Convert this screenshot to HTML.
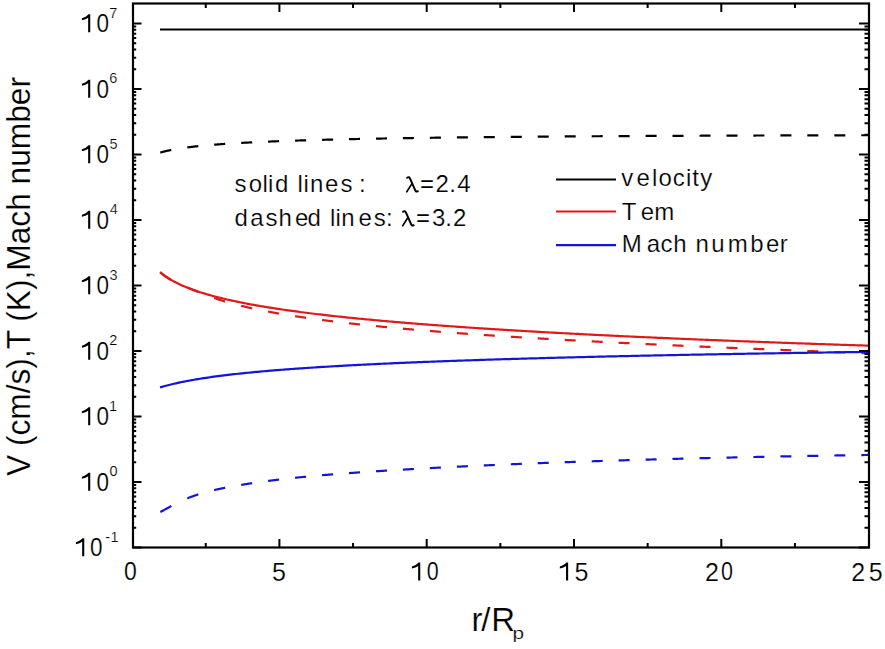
<!DOCTYPE html>
<html><head><meta charset="utf-8"><style>
html,body{margin:0;padding:0;background:#fff;}
svg{display:block;}
</style></head><body>
<svg width="885" height="649" viewBox="0 0 885 649">
<style>
text { font-family: "Liberation Sans", sans-serif; fill:#000; stroke:#fff; stroke-width:0.2px; }
.tl { font-size:25px; letter-spacing:2px; }
.sup { font-size:14px; letter-spacing:0; }
.at { font-size:33px; }
.an { font-size:24px; letter-spacing:1px; }
</style>
<rect width="885" height="649" fill="#fff"/>
<g fill="none" stroke-linejoin="round" stroke-width="2.2">
<line x1="160" y1="29.5" x2="868" y2="29.5" stroke="#000"/>
<g stroke="#000"><polyline points="160.3,152.59 160.8,152.44 161.3,152.30 161.8,152.16 162.3,152.02 162.8,151.89 163.3,151.76 163.8,151.63 164.3,151.50 164.8,151.38 165.3,151.26 165.8,151.14 166.3,151.02 166.8,150.91 167.3,150.79 167.8,150.68 168.3,150.57 168.8,150.46 169.3,150.36 169.8,150.25 170.3,150.15 170.8,150.05 171.3,149.95"/>
<polyline points="187.3,147.42 187.8,147.35 188.3,147.29 188.8,147.22 189.3,147.16 189.8,147.10 190.3,147.04 190.8,146.98 191.3,146.92 191.8,146.86 192.3,146.80 192.8,146.74 193.3,146.69 193.8,146.63 194.3,146.57 194.8,146.52 195.3,146.46 195.8,146.41 196.3,146.35 196.8,146.30 197.3,146.25 197.8,146.19 198.3,146.14"/>
<polyline points="214.2,144.69 214.7,144.65 215.2,144.61 215.7,144.58 216.2,144.54 216.7,144.50 217.2,144.46 217.7,144.42 218.2,144.39 218.7,144.35 219.2,144.31 219.7,144.27 220.2,144.24 220.7,144.20 221.2,144.17 221.7,144.13 222.2,144.09 222.7,144.06 223.2,144.02 223.7,143.99 224.2,143.95 224.7,143.92 225.2,143.89"/>
<polyline points="241.2,142.91 241.7,142.88 242.2,142.85 242.7,142.82 243.2,142.80 243.7,142.77 244.2,142.74 244.7,142.72 245.2,142.69 245.7,142.66 246.2,142.64 246.7,142.61 247.2,142.59 247.7,142.56 248.2,142.53 248.7,142.51 249.2,142.48 249.7,142.46 250.2,142.43 250.7,142.41 251.2,142.38 251.7,142.36 252.2,142.33"/>
<polyline points="268.1,141.61 268.6,141.59 269.1,141.57 269.6,141.55 270.1,141.53 270.6,141.51 271.1,141.49 271.6,141.47 272.1,141.45 272.6,141.43 273.1,141.41 273.6,141.39 274.1,141.37 274.6,141.35 275.1,141.33 275.6,141.31 276.1,141.29 276.6,141.27 277.1,141.25 277.6,141.23 278.1,141.22 278.6,141.20 279.1,141.18"/>
<polyline points="295.1,140.62 295.6,140.60 296.1,140.59 296.6,140.57 297.1,140.55 297.6,140.54 298.1,140.52 298.6,140.51 299.1,140.49 299.6,140.48 300.1,140.46 300.6,140.44 301.1,140.43 301.6,140.41 302.1,140.40 302.6,140.38 303.1,140.37 303.6,140.35 304.1,140.34 304.6,140.32 305.1,140.31 305.6,140.29 306.1,140.28"/>
<polyline points="322.1,139.83 322.6,139.81 323.1,139.80 323.6,139.79 324.1,139.78 324.6,139.76 325.1,139.75 325.6,139.74 326.1,139.72 326.6,139.71 327.1,139.70 327.6,139.69 328.1,139.67 328.6,139.66 329.1,139.65 329.6,139.64 330.1,139.62 330.6,139.61 331.1,139.60 331.6,139.59 332.1,139.57 332.6,139.56 333.1,139.55"/>
<polyline points="349.0,139.18 349.5,139.17 350.0,139.16 350.5,139.15 351.0,139.14 351.5,139.13 352.0,139.12 352.5,139.10 353.0,139.09 353.5,139.08 354.0,139.07 354.5,139.06 355.0,139.05 355.5,139.04 356.0,139.03 356.5,139.02 357.0,139.01 357.5,139.00 358.0,138.99 358.5,138.98 359.0,138.97 359.5,138.96 360.0,138.95"/>
<polyline points="376.0,138.64 376.5,138.63 377.0,138.62 377.5,138.61 378.0,138.60 378.5,138.59 379.0,138.58 379.5,138.58 380.0,138.57 380.5,138.56 381.0,138.55 381.5,138.54 382.0,138.53 382.5,138.52 383.0,138.51 383.5,138.50 384.0,138.50 384.5,138.49 385.0,138.48 385.5,138.47 386.0,138.46 386.5,138.45 387.0,138.44"/>
<polyline points="402.9,138.18 403.4,138.17 403.9,138.17 404.4,138.16 404.9,138.15 405.4,138.14 405.9,138.14 406.4,138.13 406.9,138.12 407.4,138.11 407.9,138.10 408.4,138.10 408.9,138.09 409.4,138.08 409.9,138.07 410.4,138.07 410.9,138.06 411.4,138.05 411.9,138.04 412.4,138.04 412.9,138.03 413.4,138.02 413.9,138.01"/>
<polyline points="429.9,137.79 430.4,137.78 430.9,137.78 431.4,137.77 431.9,137.76 432.4,137.76 432.9,137.75 433.4,137.74 433.9,137.74 434.4,137.73 434.9,137.72 435.4,137.72 435.9,137.71 436.4,137.70 436.9,137.70 437.4,137.69 437.9,137.68 438.4,137.68 438.9,137.67 439.4,137.66 439.9,137.66 440.4,137.65 440.9,137.64"/>
<polyline points="456.9,137.45 457.4,137.44 457.9,137.44 458.4,137.43 458.9,137.43 459.4,137.42 459.9,137.41 460.4,137.41 460.9,137.40 461.4,137.40 461.9,137.39 462.4,137.39 462.9,137.38 463.4,137.37 463.9,137.37 464.4,137.36 464.9,137.36 465.4,137.35 465.9,137.35 466.4,137.34 466.9,137.34 467.4,137.33 467.9,137.32"/>
<polyline points="483.8,137.15 484.3,137.15 484.8,137.14 485.3,137.14 485.8,137.13 486.3,137.13 486.8,137.12 487.3,137.12 487.8,137.11 488.3,137.11 488.8,137.10 489.3,137.10 489.8,137.09 490.3,137.09 490.8,137.08 491.3,137.08 491.8,137.07 492.3,137.07 492.8,137.06 493.3,137.06 493.8,137.05 494.3,137.05 494.8,137.04"/>
<polyline points="510.8,136.89 511.3,136.89 511.8,136.88 512.3,136.88 512.8,136.88 513.3,136.87 513.8,136.87 514.3,136.86 514.8,136.86 515.3,136.85 515.8,136.85 516.3,136.84 516.8,136.84 517.3,136.84 517.8,136.83 518.3,136.83 518.8,136.82 519.3,136.82 519.8,136.81 520.3,136.81 520.8,136.80 521.3,136.80 521.8,136.80"/>
<polyline points="537.7,136.66 538.2,136.66 538.7,136.66 539.2,136.65 539.7,136.65 540.2,136.64 540.7,136.64 541.2,136.64 541.7,136.63 542.2,136.63 542.7,136.62 543.2,136.62 543.7,136.62 544.2,136.61 544.7,136.61 545.2,136.60 545.7,136.60 546.2,136.60 546.7,136.59 547.2,136.59 547.7,136.59 548.2,136.58 548.7,136.58"/>
<polyline points="564.7,136.46 565.2,136.46 565.7,136.45 566.2,136.45 566.7,136.45 567.2,136.44 567.7,136.44 568.2,136.44 568.7,136.43 569.2,136.43 569.7,136.43 570.2,136.42 570.7,136.42 571.2,136.41 571.7,136.41 572.2,136.41 572.7,136.40 573.2,136.40 573.7,136.40 574.2,136.39 574.7,136.39 575.2,136.39 575.7,136.38"/>
<polyline points="591.7,136.28 592.2,136.28 592.7,136.27 593.2,136.27 593.7,136.27 594.2,136.26 594.7,136.26 595.2,136.26 595.7,136.25 596.2,136.25 596.7,136.25 597.2,136.25 597.7,136.24 598.2,136.24 598.7,136.24 599.2,136.23 599.7,136.23 600.2,136.23 600.7,136.22 601.2,136.22 601.7,136.22 602.2,136.21 602.7,136.21"/>
<polyline points="618.6,136.12 619.1,136.12 619.6,136.11 620.1,136.11 620.6,136.11 621.1,136.10 621.6,136.10 622.1,136.10 622.6,136.10 623.1,136.09 623.6,136.09 624.1,136.09 624.6,136.08 625.1,136.08 625.6,136.08 626.1,136.08 626.6,136.07 627.1,136.07 627.6,136.07 628.1,136.07 628.6,136.06 629.1,136.06 629.6,136.06"/>
<polyline points="645.6,135.97 646.1,135.97 646.6,135.97 647.1,135.97 647.6,135.96 648.1,135.96 648.6,135.96 649.1,135.96 649.6,135.95 650.1,135.95 650.6,135.95 651.1,135.95 651.6,135.94 652.1,135.94 652.6,135.94 653.1,135.94 653.6,135.93 654.1,135.93 654.6,135.93 655.1,135.93 655.6,135.92 656.1,135.92 656.6,135.92"/>
<polyline points="672.5,135.84 673.0,135.84 673.5,135.84 674.0,135.84 674.5,135.84 675.0,135.83 675.5,135.83 676.0,135.83 676.5,135.83 677.0,135.82 677.5,135.82 678.0,135.82 678.5,135.82 679.0,135.82 679.5,135.81 680.0,135.81 680.5,135.81 681.0,135.81 681.5,135.80 682.0,135.80 682.5,135.80 683.0,135.80 683.5,135.80"/>
<polyline points="699.5,135.73 700.0,135.73 700.5,135.73 701.0,135.72 701.5,135.72 702.0,135.72 702.5,135.72 703.0,135.72 703.5,135.71 704.0,135.71 704.5,135.71 705.0,135.71 705.5,135.71 706.0,135.70 706.5,135.70 707.0,135.70 707.5,135.70 708.0,135.70 708.5,135.69 709.0,135.69 709.5,135.69 710.0,135.69 710.5,135.69"/>
<polyline points="726.5,135.63 727.0,135.62 727.5,135.62 728.0,135.62 728.5,135.62 729.0,135.62 729.5,135.61 730.0,135.61 730.5,135.61 731.0,135.61 731.5,135.61 732.0,135.61 732.5,135.60 733.0,135.60 733.5,135.60 734.0,135.60 734.5,135.60 735.0,135.59 735.5,135.59 736.0,135.59 736.5,135.59 737.0,135.59 737.5,135.59"/>
<polyline points="753.4,135.53 753.9,135.53 754.4,135.53 754.9,135.53 755.4,135.53 755.9,135.52 756.4,135.52 756.9,135.52 757.4,135.52 757.9,135.52 758.4,135.52 758.9,135.51 759.4,135.51 759.9,135.51 760.4,135.51 760.9,135.51 761.4,135.51 761.9,135.50 762.4,135.50 762.9,135.50 763.4,135.50 763.9,135.50 764.4,135.50"/>
<polyline points="780.4,135.45 780.9,135.45 781.4,135.45 781.9,135.44 782.4,135.44 782.9,135.44 783.4,135.44 783.9,135.44 784.4,135.44 784.9,135.44 785.4,135.43 785.9,135.43 786.4,135.43 786.9,135.43 787.4,135.43 787.9,135.43 788.4,135.43 788.9,135.42 789.4,135.42 789.9,135.42 790.4,135.42 790.9,135.42 791.4,135.42"/>
<polyline points="807.3,135.37 807.8,135.37 808.3,135.37 808.8,135.37 809.3,135.37 809.8,135.37 810.3,135.37 810.8,135.36 811.3,135.36 811.8,135.36 812.3,135.36 812.8,135.36 813.3,135.36 813.8,135.36 814.3,135.36 814.8,135.35 815.3,135.35 815.8,135.35 816.3,135.35 816.8,135.35 817.3,135.35 817.8,135.35 818.3,135.35"/>
<polyline points="834.3,135.31 834.8,135.30 835.3,135.30 835.8,135.30 836.3,135.30 836.8,135.30 837.3,135.30 837.8,135.30 838.3,135.30 838.8,135.30 839.3,135.29 839.8,135.29 840.3,135.29 840.8,135.29 841.3,135.29 841.8,135.29 842.3,135.29 842.8,135.29 843.3,135.29 843.8,135.28 844.3,135.28 844.8,135.28 845.3,135.28"/>
<polyline points="861.3,135.25 861.8,135.24 862.3,135.24 862.8,135.24 863.3,135.24 863.8,135.24 864.3,135.24 864.8,135.24 865.3,135.24 865.8,135.24 866.3,135.24 866.8,135.23 867.3,135.23 867.8,135.23 868.0,135.23"/></g>
<g stroke="#e01818"><polyline points="160.0,272.05 162.0,273.70 164.0,275.23 166.0,276.65 168.0,277.97 170.0,279.21 172.0,280.38 174.0,281.48 176.0,282.53 178.0,283.53 180.0,284.48 182.0,285.39 184.0,286.26 186.0,287.09 188.0,287.90 190.0,288.67 192.0,289.42 194.0,290.14 196.0,290.84 198.0,291.51 200.0,292.17 202.0,292.80 204.0,293.42 206.0,294.02 208.0,294.60 210.0,295.17 212.0,295.72 214.0,296.26 216.0,296.79 218.0,297.30 220.0,297.80 222.0,298.29 224.0,298.77 226.0,299.24 228.0,299.70 230.0,300.15 232.0,300.59 234.0,301.02 236.0,301.45 238.0,301.86 240.0,302.27 242.0,302.67 244.0,303.07 246.0,303.46 248.0,303.84 250.0,304.21 252.0,304.58 254.0,304.94 256.0,305.30 258.0,305.65 260.0,305.99 262.0,306.33 264.0,306.67 266.0,307.00 268.0,307.32 270.0,307.64 272.0,307.96 274.0,308.27 276.0,308.58 278.0,308.88 280.0,309.18 282.0,309.47 284.0,309.77 286.0,310.05 288.0,310.34 290.0,310.62 292.0,310.90 294.0,311.17 296.0,311.44 298.0,311.71 300.0,311.97 302.0,312.23 304.0,312.49 306.0,312.75 308.0,313.00 310.0,313.25 312.0,313.50 314.0,313.74 316.0,313.98 318.0,314.22 320.0,314.46 322.0,314.70 324.0,314.93 326.0,315.16 328.0,315.39 330.0,315.61 332.0,315.83 334.0,316.06 336.0,316.27 338.0,316.49 340.0,316.71 342.0,316.92 344.0,317.13 346.0,317.34 348.0,317.55 350.0,317.75 352.0,317.96 354.0,318.16 356.0,318.36 358.0,318.56 360.0,318.75 362.0,318.95 364.0,319.14 366.0,319.33 368.0,319.52 370.0,319.71 372.0,319.90 374.0,320.09 376.0,320.27 378.0,320.45 380.0,320.63 382.0,320.81 384.0,320.99 386.0,321.17 388.0,321.35 390.0,321.52 392.0,321.70 394.0,321.87 396.0,322.04 398.0,322.21 400.0,322.38 402.0,322.54 404.0,322.71 406.0,322.87 408.0,323.04 410.0,323.20 412.0,323.36 414.0,323.52 416.0,323.68 418.0,323.84 420.0,324.00 422.0,324.15 424.0,324.31 426.0,324.46 428.0,324.62 430.0,324.77 432.0,324.92 434.0,325.07 436.0,325.22 438.0,325.37 440.0,325.51 442.0,325.66 444.0,325.81 446.0,325.95 448.0,326.10 450.0,326.24 452.0,326.38 454.0,326.52 456.0,326.66 458.0,326.80 460.0,326.94 462.0,327.08 464.0,327.22 466.0,327.35 468.0,327.49 470.0,327.62 472.0,327.76 474.0,327.89 476.0,328.02 478.0,328.15 480.0,328.29 482.0,328.42 484.0,328.55 486.0,328.68 488.0,328.80 490.0,328.93 492.0,329.06 494.0,329.18 496.0,329.31 498.0,329.44 500.0,329.56 502.0,329.68 504.0,329.81 506.0,329.93 508.0,330.05 510.0,330.17 512.0,330.29 514.0,330.41 516.0,330.53 518.0,330.65 520.0,330.77 522.0,330.89 524.0,331.00 526.0,331.12 528.0,331.24 530.0,331.35 532.0,331.47 534.0,331.58 536.0,331.69 538.0,331.81 540.0,331.92 542.0,332.03 544.0,332.14 546.0,332.26 548.0,332.37 550.0,332.48 552.0,332.59 554.0,332.69 556.0,332.80 558.0,332.91 560.0,333.02 562.0,333.13 564.0,333.23 566.0,333.34 568.0,333.45 570.0,333.55 572.0,333.66 574.0,333.76 576.0,333.86 578.0,333.97 580.0,334.07 582.0,334.17 584.0,334.28 586.0,334.38 588.0,334.48 590.0,334.58 592.0,334.68 594.0,334.78 596.0,334.88 598.0,334.98 600.0,335.08 602.0,335.18 604.0,335.27 606.0,335.37 608.0,335.47 610.0,335.57 612.0,335.66 614.0,335.76 616.0,335.85 618.0,335.95 620.0,336.05 622.0,336.14 624.0,336.23 626.0,336.33 628.0,336.42 630.0,336.51 632.0,336.61 634.0,336.70 636.0,336.79 638.0,336.88 640.0,336.98 642.0,337.07 644.0,337.16 646.0,337.25 648.0,337.34 650.0,337.43 652.0,337.52 654.0,337.61 656.0,337.70 658.0,337.78 660.0,337.87 662.0,337.96 664.0,338.05 666.0,338.13 668.0,338.22 670.0,338.31 672.0,338.39 674.0,338.48 676.0,338.57 678.0,338.65 680.0,338.74 682.0,338.82 684.0,338.91 686.0,338.99 688.0,339.07 690.0,339.16 692.0,339.24 694.0,339.32 696.0,339.41 698.0,339.49 700.0,339.57 702.0,339.65 704.0,339.74 706.0,339.82 708.0,339.90 710.0,339.98 712.0,340.06 714.0,340.14 716.0,340.22 718.0,340.30 720.0,340.38 722.0,340.46 724.0,340.54 726.0,340.62 728.0,340.69 730.0,340.77 732.0,340.85 734.0,340.93 736.0,341.01 738.0,341.08 740.0,341.16 742.0,341.24 744.0,341.31 746.0,341.39 748.0,341.47 750.0,341.54 752.0,341.62 754.0,341.69 756.0,341.77 758.0,341.84 760.0,341.92 762.0,341.99 764.0,342.07 766.0,342.14 768.0,342.22 770.0,342.29 772.0,342.36 774.0,342.44 776.0,342.51 778.0,342.58 780.0,342.65 782.0,342.73 784.0,342.80 786.0,342.87 788.0,342.94 790.0,343.01 792.0,343.08 794.0,343.16 796.0,343.23 798.0,343.30 800.0,343.37 802.0,343.44 804.0,343.51 806.0,343.58 808.0,343.65 810.0,343.72 812.0,343.79 814.0,343.86 816.0,343.92 818.0,343.99 820.0,344.06 822.0,344.13 824.0,344.20 826.0,344.27 828.0,344.33 830.0,344.40 832.0,344.47 834.0,344.54 836.0,344.60 838.0,344.67 840.0,344.74 842.0,344.80 844.0,344.87 846.0,344.94 848.0,345.00 850.0,345.07 852.0,345.13 854.0,345.20 856.0,345.26 858.0,345.33 860.0,345.39 862.0,345.46 864.0,345.52 866.0,345.59 868.0,345.65"/></g>
<g stroke="#e01818"><polyline points="160.3,272.28 160.8,272.76 161.3,273.21 161.8,273.65 162.3,274.07 162.8,274.48 163.3,274.87 163.8,275.25 164.3,275.63 164.8,275.99 165.3,276.34 165.8,276.68 166.3,277.01 166.8,277.33 167.3,277.65 167.8,277.96 168.3,278.27 168.8,278.56 169.3,278.86 169.8,279.14 170.3,279.42 170.8,279.70 171.3,279.97"/>
<polyline points="187.3,287.41 187.8,287.62 188.3,287.83 188.8,288.04 189.3,288.25 189.8,288.46 190.3,288.67 190.8,288.88 191.3,289.09 191.8,289.30 192.3,289.50 192.8,289.71 193.3,289.91 193.8,290.12 194.3,290.32 194.8,290.53 195.3,290.73 195.8,290.93 196.3,291.14 196.8,291.34 197.3,291.54 197.8,291.74 198.3,291.94"/>
<polyline points="214.2,297.98 214.7,298.16 215.2,298.33 215.7,298.50 216.2,298.67 216.7,298.84 217.2,299.01 217.7,299.17 218.2,299.34 218.7,299.50 219.2,299.67 219.7,299.83 220.2,299.99 220.7,300.15 221.2,300.31 221.7,300.46 222.2,300.62 222.7,300.77 223.2,300.93 223.7,301.08 224.2,301.23 224.7,301.38 225.2,301.53"/>
<polyline points="241.2,305.83 241.7,305.95 242.2,306.07 242.7,306.19 243.2,306.31 243.7,306.43 244.2,306.55 244.7,306.67 245.2,306.79 245.7,306.90 246.2,307.02 246.7,307.13 247.2,307.25 247.7,307.36 248.2,307.48 248.7,307.59 249.2,307.70 249.7,307.81 250.2,307.92 250.7,308.04 251.2,308.15 251.7,308.26 252.2,308.36"/>
<polyline points="268.1,311.59 268.6,311.68 269.1,311.78 269.6,311.87 270.1,311.96 270.6,312.06 271.1,312.15 271.6,312.24 272.1,312.33 272.6,312.42 273.1,312.51 273.6,312.60 274.1,312.69 274.6,312.78 275.1,312.87 275.6,312.96 276.1,313.05 276.6,313.13 277.1,313.22 277.6,313.31 278.1,313.40 278.6,313.48 279.1,313.57"/>
<polyline points="295.1,316.16 295.6,316.24 296.1,316.32 296.6,316.39 297.1,316.47 297.6,316.55 298.1,316.62 298.6,316.70 299.1,316.77 299.6,316.85 300.1,316.92 300.6,317.00 301.1,317.07 301.6,317.14 302.1,317.22 302.6,317.29 303.1,317.36 303.6,317.44 304.1,317.51 304.6,317.58 305.1,317.65 305.6,317.73 306.1,317.80"/>
<polyline points="322.1,319.98 322.6,320.05 323.1,320.11 323.6,320.18 324.1,320.24 324.6,320.30 325.1,320.37 325.6,320.43 326.1,320.50 326.6,320.56 327.1,320.62 327.6,320.69 328.1,320.75 328.6,320.81 329.1,320.88 329.6,320.94 330.1,321.00 330.6,321.06 331.1,321.13 331.6,321.19 332.1,321.25 332.6,321.31 333.1,321.37"/>
<polyline points="349.0,323.26 349.5,323.31 350.0,323.37 350.5,323.43 351.0,323.48 351.5,323.54 352.0,323.59 352.5,323.65 353.0,323.71 353.5,323.76 354.0,323.82 354.5,323.87 355.0,323.93 355.5,323.98 356.0,324.04 356.5,324.09 357.0,324.15 357.5,324.20 358.0,324.26 358.5,324.31 359.0,324.36 359.5,324.42 360.0,324.47"/>
<polyline points="376.0,326.13 376.5,326.18 377.0,326.23 377.5,326.28 378.0,326.33 378.5,326.38 379.0,326.43 379.5,326.47 380.0,326.52 380.5,326.57 381.0,326.62 381.5,326.67 382.0,326.72 382.5,326.77 383.0,326.82 383.5,326.87 384.0,326.91 384.5,326.96 385.0,327.01 385.5,327.06 386.0,327.11 386.5,327.15 387.0,327.20"/>
<polyline points="402.9,328.68 403.4,328.72 403.9,328.77 404.4,328.81 404.9,328.86 405.4,328.90 405.9,328.94 406.4,328.99 406.9,329.03 407.4,329.08 407.9,329.12 408.4,329.16 408.9,329.21 409.4,329.25 409.9,329.30 410.4,329.34 410.9,329.38 411.4,329.43 411.9,329.47 412.4,329.51 412.9,329.56 413.4,329.60 413.9,329.64"/>
<polyline points="429.9,330.97 430.4,331.01 430.9,331.05 431.4,331.09 431.9,331.13 432.4,331.17 432.9,331.21 433.4,331.25 433.9,331.29 434.4,331.33 434.9,331.37 435.4,331.41 435.9,331.45 436.4,331.49 436.9,331.53 437.4,331.57 437.9,331.61 438.4,331.65 438.9,331.69 439.4,331.73 439.9,331.77 440.4,331.81 440.9,331.85"/>
<polyline points="456.9,333.06 457.4,333.09 457.9,333.13 458.4,333.17 458.9,333.20 459.4,333.24 459.9,333.28 460.4,333.31 460.9,333.35 461.4,333.39 461.9,333.42 462.4,333.46 462.9,333.50 463.4,333.53 463.9,333.57 464.4,333.60 464.9,333.64 465.4,333.68 465.9,333.71 466.4,333.75 466.9,333.78 467.4,333.82 467.9,333.86"/>
<polyline points="483.8,334.97 484.3,335.00 484.8,335.03 485.3,335.07 485.8,335.10 486.3,335.14 486.8,335.17 487.3,335.20 487.8,335.24 488.3,335.27 488.8,335.30 489.3,335.34 489.8,335.37 490.3,335.40 490.8,335.44 491.3,335.47 491.8,335.50 492.3,335.54 492.8,335.57 493.3,335.60 493.8,335.64 494.3,335.67 494.8,335.70"/>
<polyline points="510.8,336.73 511.3,336.76 511.8,336.79 512.3,336.82 512.8,336.85 513.3,336.89 513.8,336.92 514.3,336.95 514.8,336.98 515.3,337.01 515.8,337.04 516.3,337.07 516.8,337.10 517.3,337.13 517.8,337.16 518.3,337.20 518.8,337.23 519.3,337.26 519.8,337.29 520.3,337.32 520.8,337.35 521.3,337.38 521.8,337.41"/>
<polyline points="537.7,338.37 538.2,338.40 538.7,338.43 539.2,338.45 539.7,338.48 540.2,338.51 540.7,338.54 541.2,338.57 541.7,338.60 542.2,338.63 542.7,338.66 543.2,338.69 543.7,338.72 544.2,338.75 544.7,338.77 545.2,338.80 545.7,338.83 546.2,338.86 546.7,338.89 547.2,338.92 547.7,338.95 548.2,338.98 548.7,339.00"/>
<polyline points="564.7,339.90 565.2,339.93 565.7,339.96 566.2,339.99 566.7,340.01 567.2,340.04 567.7,340.07 568.2,340.10 568.7,340.12 569.2,340.15 569.7,340.18 570.2,340.21 570.7,340.23 571.2,340.26 571.7,340.29 572.2,340.31 572.7,340.34 573.2,340.37 573.7,340.40 574.2,340.42 574.7,340.45 575.2,340.48 575.7,340.50"/>
<polyline points="591.7,341.35 592.2,341.38 592.7,341.40 593.2,341.43 593.7,341.46 594.2,341.48 594.7,341.51 595.2,341.54 595.7,341.56 596.2,341.59 596.7,341.61 597.2,341.64 597.7,341.66 598.2,341.69 598.7,341.72 599.2,341.74 599.7,341.77 600.2,341.79 600.7,341.82 601.2,341.85 601.7,341.87 602.2,341.90 602.7,341.92"/>
<polyline points="618.6,342.73 619.1,342.75 619.6,342.78 620.1,342.80 620.6,342.83 621.1,342.85 621.6,342.88 622.1,342.90 622.6,342.93 623.1,342.95 623.6,342.98 624.1,343.00 624.6,343.03 625.1,343.05 625.6,343.08 626.1,343.10 626.6,343.13 627.1,343.15 627.6,343.17 628.1,343.20 628.6,343.22 629.1,343.25 629.6,343.27"/>
<polyline points="645.6,344.04 646.1,344.07 646.6,344.09 647.1,344.11 647.6,344.14 648.1,344.16 648.6,344.19 649.1,344.21 649.6,344.23 650.1,344.26 650.6,344.28 651.1,344.30 651.6,344.33 652.1,344.35 652.6,344.37 653.1,344.40 653.6,344.42 654.1,344.44 654.6,344.47 655.1,344.49 655.6,344.52 656.1,344.54 656.6,344.56"/>
<polyline points="672.5,345.30 673.0,345.32 673.5,345.35 674.0,345.37 674.5,345.39 675.0,345.41 675.5,345.44 676.0,345.46 676.5,345.48 677.0,345.51 677.5,345.53 678.0,345.55 678.5,345.57 679.0,345.60 679.5,345.62 680.0,345.64 680.5,345.66 681.0,345.69 681.5,345.71 682.0,345.73 682.5,345.75 683.0,345.78 683.5,345.80"/>
<polyline points="699.5,346.51 700.0,346.53 700.5,346.55 701.0,346.58 701.5,346.60 702.0,346.62 702.5,346.64 703.0,346.66 703.5,346.69 704.0,346.71 704.5,346.73 705.0,346.75 705.5,346.77 706.0,346.80 706.5,346.82 707.0,346.84 707.5,346.86 708.0,346.88 708.5,346.91 709.0,346.93 709.5,346.95 710.0,346.97 710.5,346.99"/>
<polyline points="726.5,347.68 727.0,347.70 727.5,347.72 728.0,347.74 728.5,347.76 729.0,347.78 729.5,347.81 730.0,347.83 730.5,347.85 731.0,347.87 731.5,347.89 732.0,347.91 732.5,347.93 733.0,347.95 733.5,347.97 734.0,348.00 734.5,348.02 735.0,348.04 735.5,348.06 736.0,348.08 736.5,348.10 737.0,348.12 737.5,348.14"/>
<polyline points="753.4,348.81 753.9,348.83 754.4,348.85 754.9,348.87 755.4,348.89 755.9,348.91 756.4,348.93 756.9,348.95 757.4,348.97 757.9,348.99 758.4,349.01 758.9,349.03 759.4,349.05 759.9,349.07 760.4,349.10 760.9,349.12 761.4,349.14 761.9,349.16 762.4,349.18 762.9,349.20 763.4,349.22 763.9,349.24 764.4,349.26"/>
<polyline points="780.4,349.90 780.9,349.92 781.4,349.94 781.9,349.96 782.4,349.98 782.9,350.00 783.4,350.02 783.9,350.04 784.4,350.06 784.9,350.08 785.4,350.10 785.9,350.12 786.4,350.14 786.9,350.16 787.4,350.18 787.9,350.20 788.4,350.22 788.9,350.24 789.4,350.26 789.9,350.28 790.4,350.30 790.9,350.32 791.4,350.34"/>
<polyline points="807.3,350.97 807.8,350.99 808.3,351.01 808.8,351.03 809.3,351.05 809.8,351.06 810.3,351.08 810.8,351.10 811.3,351.12 811.8,351.14 812.3,351.16 812.8,351.18 813.3,351.20 813.8,351.22 814.3,351.24 814.8,351.26 815.3,351.28 815.8,351.30 816.3,351.32 816.8,351.34 817.3,351.36 817.8,351.37 818.3,351.39"/>
<polyline points="834.3,352.00 834.8,352.02 835.3,352.04 835.8,352.06 836.3,352.08 836.8,352.10 837.3,352.12 837.8,352.14 838.3,352.16 838.8,352.17 839.3,352.19 839.8,352.21 840.3,352.23 840.8,352.25 841.3,352.27 841.8,352.29 842.3,352.31 842.8,352.33 843.3,352.34 843.8,352.36 844.3,352.38 844.8,352.40 845.3,352.42"/>
<polyline points="861.3,353.02 861.8,353.03 862.3,353.05 862.8,353.07 863.3,353.09 863.8,353.11 864.3,353.13 864.8,353.15 865.3,353.16 865.8,353.18 866.3,353.20 866.8,353.22 867.3,353.24 867.8,353.26 868.0,353.26"/></g>
<g stroke="#1414d8"><polyline points="160.0,387.40 162.0,386.84 164.0,386.28 166.0,385.75 168.0,385.23 170.0,384.72 172.0,384.24 174.0,383.77 176.0,383.31 178.0,382.86 180.0,382.44 182.0,382.02 184.0,381.62 186.0,381.22 188.0,380.84 190.0,380.47 192.0,380.11 194.0,379.76 196.0,379.42 198.0,379.08 200.0,378.76 202.0,378.44 204.0,378.13 206.0,377.83 208.0,377.54 210.0,377.25 212.0,376.96 214.0,376.69 216.0,376.42 218.0,376.15 220.0,375.89 222.0,375.64 224.0,375.39 226.0,375.15 228.0,374.91 230.0,374.67 232.0,374.44 234.0,374.21 236.0,373.99 238.0,373.77 240.0,373.56 242.0,373.35 244.0,373.14 246.0,372.94 248.0,372.73 250.0,372.54 252.0,372.34 254.0,372.15 256.0,371.96 258.0,371.78 260.0,371.59 262.0,371.41 264.0,371.23 266.0,371.06 268.0,370.89 270.0,370.72 272.0,370.55 274.0,370.38 276.0,370.22 278.0,370.06 280.0,369.90 282.0,369.74 284.0,369.59 286.0,369.44 288.0,369.28 290.0,369.14 292.0,368.99 294.0,368.84 296.0,368.70 298.0,368.56 300.0,368.42 302.0,368.28 304.0,368.14 306.0,368.01 308.0,367.87 310.0,367.74 312.0,367.61 314.0,367.48 316.0,367.35 318.0,367.22 320.0,367.10 322.0,366.97 324.0,366.85 326.0,366.73 328.0,366.61 330.0,366.49 332.0,366.37 334.0,366.26 336.0,366.14 338.0,366.03 340.0,365.91 342.0,365.80 344.0,365.69 346.0,365.58 348.0,365.47 350.0,365.37 352.0,365.26 354.0,365.15 356.0,365.05 358.0,364.94 360.0,364.84 362.0,364.74 364.0,364.64 366.0,364.54 368.0,364.44 370.0,364.34 372.0,364.24 374.0,364.15 376.0,364.05 378.0,363.96 380.0,363.86 382.0,363.77 384.0,363.68 386.0,363.58 388.0,363.49 390.0,363.40 392.0,363.31 394.0,363.22 396.0,363.14 398.0,363.05 400.0,362.96 402.0,362.88 404.0,362.79 406.0,362.71 408.0,362.62 410.0,362.54 412.0,362.45 414.0,362.37 416.0,362.29 418.0,362.21 420.0,362.13 422.0,362.05 424.0,361.97 426.0,361.89 428.0,361.81 430.0,361.74 432.0,361.66 434.0,361.58 436.0,361.51 438.0,361.43 440.0,361.36 442.0,361.28 444.0,361.21 446.0,361.14 448.0,361.06 450.0,360.99 452.0,360.92 454.0,360.85 456.0,360.78 458.0,360.71 460.0,360.64 462.0,360.57 464.0,360.50 466.0,360.43 468.0,360.36 470.0,360.30 472.0,360.23 474.0,360.16 476.0,360.10 478.0,360.03 480.0,359.96 482.0,359.90 484.0,359.83 486.0,359.77 488.0,359.71 490.0,359.64 492.0,359.58 494.0,359.52 496.0,359.45 498.0,359.39 500.0,359.33 502.0,359.27 504.0,359.21 506.0,359.15 508.0,359.09 510.0,359.03 512.0,358.97 514.0,358.91 516.0,358.85 518.0,358.79 520.0,358.74 522.0,358.68 524.0,358.62 526.0,358.56 528.0,358.51 530.0,358.45 532.0,358.40 534.0,358.34 536.0,358.28 538.0,358.23 540.0,358.17 542.0,358.12 544.0,358.07 546.0,358.01 548.0,357.96 550.0,357.90 552.0,357.85 554.0,357.80 556.0,357.75 558.0,357.69 560.0,357.64 562.0,357.59 564.0,357.54 566.0,357.49 568.0,357.44 570.0,357.39 572.0,357.34 574.0,357.29 576.0,357.24 578.0,357.19 580.0,357.14 582.0,357.09 584.0,357.04 586.0,356.99 588.0,356.94 590.0,356.90 592.0,356.85 594.0,356.80 596.0,356.75 598.0,356.71 600.0,356.66 602.0,356.61 604.0,356.57 606.0,356.52 608.0,356.47 610.0,356.43 612.0,356.38 614.0,356.34 616.0,356.29 618.0,356.25 620.0,356.20 622.0,356.16 624.0,356.11 626.0,356.07 628.0,356.03 630.0,355.98 632.0,355.94 634.0,355.90 636.0,355.85 638.0,355.81 640.0,355.77 642.0,355.72 644.0,355.68 646.0,355.64 648.0,355.60 650.0,355.56 652.0,355.52 654.0,355.47 656.0,355.43 658.0,355.39 660.0,355.35 662.0,355.31 664.0,355.27 666.0,355.23 668.0,355.19 670.0,355.15 672.0,355.11 674.0,355.07 676.0,355.03 678.0,354.99 680.0,354.95 682.0,354.91 684.0,354.88 686.0,354.84 688.0,354.80 690.0,354.76 692.0,354.72 694.0,354.68 696.0,354.65 698.0,354.61 700.0,354.57 702.0,354.54 704.0,354.50 706.0,354.46 708.0,354.42 710.0,354.39 712.0,354.35 714.0,354.32 716.0,354.28 718.0,354.24 720.0,354.21 722.0,354.17 724.0,354.14 726.0,354.10 728.0,354.07 730.0,354.03 732.0,353.99 734.0,353.96 736.0,353.93 738.0,353.89 740.0,353.86 742.0,353.82 744.0,353.79 746.0,353.75 748.0,353.72 750.0,353.69 752.0,353.65 754.0,353.62 756.0,353.59 758.0,353.55 760.0,353.52 762.0,353.49 764.0,353.45 766.0,353.42 768.0,353.39 770.0,353.36 772.0,353.32 774.0,353.29 776.0,353.26 778.0,353.23 780.0,353.19 782.0,353.16 784.0,353.13 786.0,353.10 788.0,353.07 790.0,353.04 792.0,353.01 794.0,352.97 796.0,352.94 798.0,352.91 800.0,352.88 802.0,352.85 804.0,352.82 806.0,352.79 808.0,352.76 810.0,352.73 812.0,352.70 814.0,352.67 816.0,352.64 818.0,352.61 820.0,352.58 822.0,352.55 824.0,352.52 826.0,352.49 828.0,352.46 830.0,352.43 832.0,352.40 834.0,352.38 836.0,352.35 838.0,352.32 840.0,352.29 842.0,352.26 844.0,352.23 846.0,352.20 848.0,352.18 850.0,352.15 852.0,352.12 854.0,352.09 856.0,352.06 858.0,352.04 860.0,352.01 862.0,351.98 864.0,351.95 866.0,351.93 868.0,351.90"/></g>
<g stroke="#1414d8"><polyline points="160.3,511.89 160.8,511.66 161.3,511.42 161.8,511.18 162.3,510.93 162.8,510.67 163.3,510.41 163.8,510.15 164.3,509.88 164.8,509.61 165.3,509.34 165.8,509.06 166.3,508.79 166.8,508.51 167.3,508.24 167.8,507.96 168.3,507.68 168.8,507.41 169.3,507.13 169.8,506.86 170.3,506.58 170.8,506.31 171.3,506.04"/>
<polyline points="187.3,498.39 187.8,498.19 188.3,497.99 188.8,497.79 189.3,497.59 189.8,497.40 190.3,497.21 190.8,497.02 191.3,496.83 191.8,496.64 192.3,496.46 192.8,496.28 193.3,496.10 193.8,495.92 194.3,495.74 194.8,495.57 195.3,495.40 195.8,495.23 196.3,495.06 196.8,494.89 197.3,494.73 197.8,494.56 198.3,494.40"/>
<polyline points="214.2,490.08 214.7,489.97 215.2,489.85 215.7,489.74 216.2,489.63 216.7,489.52 217.2,489.41 217.7,489.30 218.2,489.19 218.7,489.08 219.2,488.97 219.7,488.86 220.2,488.76 220.7,488.65 221.2,488.55 221.7,488.45 222.2,488.34 222.7,488.24 223.2,488.14 223.7,488.04 224.2,487.94 224.7,487.84 225.2,487.74"/>
<polyline points="241.2,484.88 241.7,484.80 242.2,484.72 242.7,484.64 243.2,484.56 243.7,484.48 244.2,484.40 244.7,484.32 245.2,484.24 245.7,484.16 246.2,484.08 246.7,484.00 247.2,483.93 247.7,483.85 248.2,483.77 248.7,483.69 249.2,483.62 249.7,483.54 250.2,483.46 250.7,483.39 251.2,483.31 251.7,483.24 252.2,483.16"/>
<polyline points="268.1,480.94 268.6,480.88 269.1,480.81 269.6,480.75 270.1,480.68 270.6,480.62 271.1,480.56 271.6,480.49 272.1,480.43 272.6,480.37 273.1,480.30 273.6,480.24 274.1,480.18 274.6,480.12 275.1,480.06 275.6,479.99 276.1,479.93 276.6,479.87 277.1,479.81 277.6,479.75 278.1,479.69 278.6,479.63 279.1,479.57"/>
<polyline points="295.1,477.79 295.6,477.73 296.1,477.68 296.6,477.63 297.1,477.58 297.6,477.53 298.1,477.48 298.6,477.42 299.1,477.37 299.6,477.32 300.1,477.27 300.6,477.22 301.1,477.17 301.6,477.12 302.1,477.07 302.6,477.02 303.1,476.97 303.6,476.92 304.1,476.87 304.6,476.82 305.1,476.78 305.6,476.73 306.1,476.68"/>
<polyline points="322.1,475.22 322.6,475.18 323.1,475.14 323.6,475.10 324.1,475.05 324.6,475.01 325.1,474.97 325.6,474.93 326.1,474.89 326.6,474.84 327.1,474.80 327.6,474.76 328.1,474.72 328.6,474.68 329.1,474.64 329.6,474.60 330.1,474.56 330.6,474.52 331.1,474.48 331.6,474.44 332.1,474.40 332.6,474.36 333.1,474.32"/>
<polyline points="349.0,473.11 349.5,473.07 350.0,473.04 350.5,473.00 351.0,472.96 351.5,472.93 352.0,472.89 352.5,472.86 353.0,472.82 353.5,472.79 354.0,472.75 354.5,472.72 355.0,472.68 355.5,472.65 356.0,472.61 356.5,472.58 357.0,472.54 357.5,472.51 358.0,472.47 358.5,472.44 359.0,472.40 359.5,472.37 360.0,472.34"/>
<polyline points="376.0,471.28 376.5,471.25 377.0,471.22 377.5,471.18 378.0,471.15 378.5,471.12 379.0,471.09 379.5,471.06 380.0,471.03 380.5,470.99 381.0,470.96 381.5,470.93 382.0,470.90 382.5,470.87 383.0,470.84 383.5,470.81 384.0,470.77 384.5,470.74 385.0,470.71 385.5,470.68 386.0,470.65 386.5,470.62 387.0,470.59"/>
<polyline points="402.9,469.63 403.4,469.60 403.9,469.57 404.4,469.54 404.9,469.51 405.4,469.48 405.9,469.45 406.4,469.42 406.9,469.39 407.4,469.37 407.9,469.34 408.4,469.31 408.9,469.28 409.4,469.25 409.9,469.22 410.4,469.19 410.9,469.16 411.4,469.14 411.9,469.11 412.4,469.08 412.9,469.05 413.4,469.02 413.9,468.99"/>
<polyline points="429.9,468.11 430.4,468.09 430.9,468.06 431.4,468.03 431.9,468.01 432.4,467.98 432.9,467.95 433.4,467.93 433.9,467.90 434.4,467.87 434.9,467.85 435.4,467.82 435.9,467.79 436.4,467.77 436.9,467.74 437.4,467.72 437.9,467.69 438.4,467.66 438.9,467.64 439.4,467.61 439.9,467.59 440.4,467.56 440.9,467.53"/>
<polyline points="456.9,466.73 457.4,466.70 457.9,466.68 458.4,466.65 458.9,466.63 459.4,466.60 459.9,466.58 460.4,466.56 460.9,466.53 461.4,466.51 461.9,466.48 462.4,466.46 462.9,466.43 463.4,466.41 463.9,466.39 464.4,466.36 464.9,466.34 465.4,466.31 465.9,466.29 466.4,466.27 466.9,466.24 467.4,466.22 467.9,466.19"/>
<polyline points="483.8,465.45 484.3,465.43 484.8,465.41 485.3,465.39 485.8,465.36 486.3,465.34 486.8,465.32 487.3,465.30 487.8,465.27 488.3,465.25 488.8,465.23 489.3,465.21 489.8,465.19 490.3,465.16 490.8,465.14 491.3,465.12 491.8,465.10 492.3,465.07 492.8,465.05 493.3,465.03 493.8,465.01 494.3,464.99 494.8,464.97"/>
<polyline points="510.8,464.28 511.3,464.26 511.8,464.24 512.3,464.22 512.8,464.20 513.3,464.18 513.8,464.16 514.3,464.14 514.8,464.12 515.3,464.10 515.8,464.08 516.3,464.06 516.8,464.04 517.3,464.02 517.8,464.00 518.3,463.98 518.8,463.96 519.3,463.94 519.8,463.91 520.3,463.89 520.8,463.87 521.3,463.85 521.8,463.83"/>
<polyline points="537.7,463.21 538.2,463.19 538.7,463.17 539.2,463.15 539.7,463.13 540.2,463.11 540.7,463.09 541.2,463.07 541.7,463.05 542.2,463.04 542.7,463.02 543.2,463.00 543.7,462.98 544.2,462.96 544.7,462.94 545.2,462.92 545.7,462.90 546.2,462.88 546.7,462.87 547.2,462.85 547.7,462.83 548.2,462.81 548.7,462.79"/>
<polyline points="564.7,462.21 565.2,462.20 565.7,462.18 566.2,462.16 566.7,462.14 567.2,462.12 567.7,462.11 568.2,462.09 568.7,462.07 569.2,462.05 569.7,462.04 570.2,462.02 570.7,462.00 571.2,461.98 571.7,461.97 572.2,461.95 572.7,461.93 573.2,461.92 573.7,461.90 574.2,461.88 574.7,461.86 575.2,461.85 575.7,461.83"/>
<polyline points="591.7,461.29 592.2,461.28 592.7,461.26 593.2,461.25 593.7,461.23 594.2,461.21 594.7,461.20 595.2,461.18 595.7,461.16 596.2,461.15 596.7,461.13 597.2,461.12 597.7,461.10 598.2,461.08 598.7,461.07 599.2,461.05 599.7,461.04 600.2,461.02 600.7,461.00 601.2,460.99 601.7,460.97 602.2,460.96 602.7,460.94"/>
<polyline points="618.6,460.44 619.1,460.43 619.6,460.41 620.1,460.40 620.6,460.38 621.1,460.37 621.6,460.35 622.1,460.34 622.6,460.32 623.1,460.31 623.6,460.29 624.1,460.28 624.6,460.26 625.1,460.25 625.6,460.23 626.1,460.22 626.6,460.20 627.1,460.19 627.6,460.17 628.1,460.16 628.6,460.15 629.1,460.13 629.6,460.12"/>
<polyline points="645.6,459.66 646.1,459.64 646.6,459.63 647.1,459.61 647.6,459.60 648.1,459.59 648.6,459.57 649.1,459.56 649.6,459.55 650.1,459.53 650.6,459.52 651.1,459.50 651.6,459.49 652.1,459.48 652.6,459.46 653.1,459.45 653.6,459.43 654.1,459.42 654.6,459.41 655.1,459.39 655.6,459.38 656.1,459.37 656.6,459.35"/>
<polyline points="672.5,458.93 673.0,458.91 673.5,458.90 674.0,458.89 674.5,458.87 675.0,458.86 675.5,458.85 676.0,458.84 676.5,458.82 677.0,458.81 677.5,458.80 678.0,458.78 678.5,458.77 679.0,458.76 679.5,458.75 680.0,458.73 680.5,458.72 681.0,458.71 681.5,458.69 682.0,458.68 682.5,458.67 683.0,458.66 683.5,458.64"/>
<polyline points="699.5,458.25 700.0,458.24 700.5,458.22 701.0,458.21 701.5,458.20 702.0,458.19 702.5,458.18 703.0,458.16 703.5,458.15 704.0,458.14 704.5,458.13 705.0,458.12 705.5,458.10 706.0,458.09 706.5,458.08 707.0,458.07 707.5,458.06 708.0,458.04 708.5,458.03 709.0,458.02 709.5,458.01 710.0,458.00 710.5,457.99"/>
<polyline points="726.5,457.62 727.0,457.61 727.5,457.59 728.0,457.58 728.5,457.57 729.0,457.56 729.5,457.55 730.0,457.54 730.5,457.53 731.0,457.52 731.5,457.51 732.0,457.49 732.5,457.48 733.0,457.47 733.5,457.46 734.0,457.45 734.5,457.44 735.0,457.43 735.5,457.42 736.0,457.41 736.5,457.39 737.0,457.38 737.5,457.37"/>
<polyline points="753.4,457.03 753.9,457.02 754.4,457.01 754.9,457.00 755.4,456.99 755.9,456.98 756.4,456.97 756.9,456.96 757.4,456.95 757.9,456.94 758.4,456.93 758.9,456.92 759.4,456.91 759.9,456.90 760.4,456.89 760.9,456.87 761.4,456.86 761.9,456.85 762.4,456.84 762.9,456.83 763.4,456.82 763.9,456.81 764.4,456.80"/>
<polyline points="780.4,456.48 780.9,456.47 781.4,456.47 781.9,456.46 782.4,456.45 782.9,456.44 783.4,456.43 783.9,456.42 784.4,456.41 784.9,456.40 785.4,456.39 785.9,456.38 786.4,456.37 786.9,456.36 787.4,456.35 787.9,456.34 788.4,456.33 788.9,456.32 789.4,456.31 789.9,456.30 790.4,456.29 790.9,456.28 791.4,456.27"/>
<polyline points="807.3,455.98 807.8,455.97 808.3,455.96 808.8,455.95 809.3,455.94 809.8,455.93 810.3,455.92 810.8,455.91 811.3,455.90 811.8,455.89 812.3,455.89 812.8,455.88 813.3,455.87 813.8,455.86 814.3,455.85 814.8,455.84 815.3,455.83 815.8,455.82 816.3,455.81 816.8,455.81 817.3,455.80 817.8,455.79 818.3,455.78"/>
<polyline points="834.3,455.50 834.8,455.49 835.3,455.49 835.8,455.48 836.3,455.47 836.8,455.46 837.3,455.45 837.8,455.44 838.3,455.43 838.8,455.43 839.3,455.42 839.8,455.41 840.3,455.40 840.8,455.39 841.3,455.38 841.8,455.38 842.3,455.37 842.8,455.36 843.3,455.35 843.8,455.34 844.3,455.33 844.8,455.33 845.3,455.32"/>
<polyline points="861.3,455.06 861.8,455.05 862.3,455.05 862.8,455.04 863.3,455.03 863.8,455.02 864.3,455.01 864.8,455.01 865.3,455.00 865.8,454.99 866.3,454.98 866.8,454.97 867.3,454.97 867.8,454.96 868.0,454.96"/></g>
</g>
<path d="M133.0,547.50h8.5 M869.0,547.50h-10 M133.0,527.78h3.2 M869.0,527.78h-4.5 M133.0,516.25h3.2 M869.0,516.25h-4.5 M133.0,508.07h3.2 M869.0,508.07h-4.5 M133.0,501.72h3.2 M869.0,501.72h-4.5 M133.0,496.53h3.2 M869.0,496.53h-4.5 M133.0,492.15h3.2 M869.0,492.15h-4.5 M133.0,488.35h3.2 M869.0,488.35h-4.5 M133.0,485.00h3.2 M869.0,485.00h-4.5 M133.0,482.00h8.5 M869.0,482.00h-10 M133.0,462.28h3.2 M869.0,462.28h-4.5 M133.0,450.75h3.2 M869.0,450.75h-4.5 M133.0,442.57h3.2 M869.0,442.57h-4.5 M133.0,436.22h3.2 M869.0,436.22h-4.5 M133.0,431.03h3.2 M869.0,431.03h-4.5 M133.0,426.65h3.2 M869.0,426.65h-4.5 M133.0,422.85h3.2 M869.0,422.85h-4.5 M133.0,419.50h3.2 M869.0,419.50h-4.5 M133.0,416.50h8.5 M869.0,416.50h-10 M133.0,396.78h3.2 M869.0,396.78h-4.5 M133.0,385.25h3.2 M869.0,385.25h-4.5 M133.0,377.07h3.2 M869.0,377.07h-4.5 M133.0,370.72h3.2 M869.0,370.72h-4.5 M133.0,365.53h3.2 M869.0,365.53h-4.5 M133.0,361.15h3.2 M869.0,361.15h-4.5 M133.0,357.35h3.2 M869.0,357.35h-4.5 M133.0,354.00h3.2 M869.0,354.00h-4.5 M133.0,351.00h8.5 M869.0,351.00h-10 M133.0,331.28h3.2 M869.0,331.28h-4.5 M133.0,319.75h3.2 M869.0,319.75h-4.5 M133.0,311.57h3.2 M869.0,311.57h-4.5 M133.0,305.22h3.2 M869.0,305.22h-4.5 M133.0,300.03h3.2 M869.0,300.03h-4.5 M133.0,295.65h3.2 M869.0,295.65h-4.5 M133.0,291.85h3.2 M869.0,291.85h-4.5 M133.0,288.50h3.2 M869.0,288.50h-4.5 M133.0,285.50h8.5 M869.0,285.50h-10 M133.0,265.78h3.2 M869.0,265.78h-4.5 M133.0,254.25h3.2 M869.0,254.25h-4.5 M133.0,246.07h3.2 M869.0,246.07h-4.5 M133.0,239.72h3.2 M869.0,239.72h-4.5 M133.0,234.53h3.2 M869.0,234.53h-4.5 M133.0,230.15h3.2 M869.0,230.15h-4.5 M133.0,226.35h3.2 M869.0,226.35h-4.5 M133.0,223.00h3.2 M869.0,223.00h-4.5 M133.0,220.00h8.5 M869.0,220.00h-10 M133.0,200.28h3.2 M869.0,200.28h-4.5 M133.0,188.75h3.2 M869.0,188.75h-4.5 M133.0,180.57h3.2 M869.0,180.57h-4.5 M133.0,174.22h3.2 M869.0,174.22h-4.5 M133.0,169.03h3.2 M869.0,169.03h-4.5 M133.0,164.65h3.2 M869.0,164.65h-4.5 M133.0,160.85h3.2 M869.0,160.85h-4.5 M133.0,157.50h3.2 M869.0,157.50h-4.5 M133.0,154.50h8.5 M869.0,154.50h-10 M133.0,134.78h3.2 M869.0,134.78h-4.5 M133.0,123.25h3.2 M869.0,123.25h-4.5 M133.0,115.07h3.2 M869.0,115.07h-4.5 M133.0,108.72h3.2 M869.0,108.72h-4.5 M133.0,103.53h3.2 M869.0,103.53h-4.5 M133.0,99.15h3.2 M869.0,99.15h-4.5 M133.0,95.35h3.2 M869.0,95.35h-4.5 M133.0,92.00h3.2 M869.0,92.00h-4.5 M133.0,89.00h8.5 M869.0,89.00h-10 M133.0,69.28h3.2 M869.0,69.28h-4.5 M133.0,57.75h3.2 M869.0,57.75h-4.5 M133.0,49.57h3.2 M869.0,49.57h-4.5 M133.0,43.22h3.2 M869.0,43.22h-4.5 M133.0,38.03h3.2 M869.0,38.03h-4.5 M133.0,33.65h3.2 M869.0,33.65h-4.5 M133.0,29.85h3.2 M869.0,29.85h-4.5 M133.0,26.50h3.2 M869.0,26.50h-4.5 M133.0,23.50h8.5 M869.0,23.50h-10 M205.75,3.5v4.5 M205.75,547.5v-4.5 M279.40,3.5v8.5 M279.40,547.5v-8.5 M353.05,3.5v4.5 M353.05,547.5v-4.5 M426.70,3.5v8.5 M426.70,547.5v-8.5 M500.35,3.5v4.5 M500.35,547.5v-4.5 M574.00,3.5v8.5 M574.00,547.5v-8.5 M647.65,3.5v4.5 M647.65,547.5v-4.5 M721.30,3.5v8.5 M721.30,547.5v-8.5 M794.95,3.5v4.5 M794.95,547.5v-4.5" stroke="#000" stroke-width="2" fill="none"/>
<rect x="133.0" y="3.5" width="736.0" height="544.0" fill="none" stroke="#000" stroke-width="2.2"/>
<path transform="translate(75.90,556.30)" d="M8.35 0H6.25V-14.6C4.8-13.5 2.6-12.7 0-12.1V-14.1C2.8-14.9 5.0-16.3 6.6-18.1H8.35Z" fill="#000"/>
<g transform="translate(91.00,0) scale(0.9,1) translate(-91.00,0)"><text x="90.02" y="556.30" style="font-size:25.0px" >0</text></g>
<text x="105.16 110.40" y="541.50" style="font-size:14.5px" >-1</text>
<path transform="translate(81.90,490.80)" d="M8.35 0H6.25V-14.6C4.8-13.5 2.6-12.7 0-12.1V-14.1C2.8-14.9 5.0-16.3 6.6-18.1H8.35Z" fill="#000"/>
<g transform="translate(97.40,0) scale(0.9,1) translate(-97.40,0)"><text x="96.42" y="490.80" style="font-size:25.0px" >0</text></g>
<text x="109.43" y="476.00" style="font-size:14.5px" >0</text>
<path transform="translate(81.90,425.30)" d="M8.35 0H6.25V-14.6C4.8-13.5 2.6-12.7 0-12.1V-14.1C2.8-14.9 5.0-16.3 6.6-18.1H8.35Z" fill="#000"/>
<g transform="translate(97.40,0) scale(0.9,1) translate(-97.40,0)"><text x="96.42" y="425.30" style="font-size:25.0px" >0</text></g>
<text x="108.90" y="410.50" style="font-size:14.5px" >1</text>
<path transform="translate(81.90,359.80)" d="M8.35 0H6.25V-14.6C4.8-13.5 2.6-12.7 0-12.1V-14.1C2.8-14.9 5.0-16.3 6.6-18.1H8.35Z" fill="#000"/>
<g transform="translate(97.40,0) scale(0.9,1) translate(-97.40,0)"><text x="96.42" y="359.80" style="font-size:25.0px" >0</text></g>
<text x="109.27" y="345.00" style="font-size:14.5px" >2</text>
<path transform="translate(81.90,294.30)" d="M8.35 0H6.25V-14.6C4.8-13.5 2.6-12.7 0-12.1V-14.1C2.8-14.9 5.0-16.3 6.6-18.1H8.35Z" fill="#000"/>
<g transform="translate(97.40,0) scale(0.9,1) translate(-97.40,0)"><text x="96.42" y="294.30" style="font-size:25.0px" >0</text></g>
<text x="109.45" y="279.50" style="font-size:14.5px" >3</text>
<path transform="translate(81.90,228.80)" d="M8.35 0H6.25V-14.6C4.8-13.5 2.6-12.7 0-12.1V-14.1C2.8-14.9 5.0-16.3 6.6-18.1H8.35Z" fill="#000"/>
<g transform="translate(97.40,0) scale(0.9,1) translate(-97.40,0)"><text x="96.42" y="228.80" style="font-size:25.0px" >0</text></g>
<text x="109.67" y="214.00" style="font-size:14.5px" >4</text>
<path transform="translate(81.90,163.30)" d="M8.35 0H6.25V-14.6C4.8-13.5 2.6-12.7 0-12.1V-14.1C2.8-14.9 5.0-16.3 6.6-18.1H8.35Z" fill="#000"/>
<g transform="translate(97.40,0) scale(0.9,1) translate(-97.40,0)"><text x="96.42" y="163.30" style="font-size:25.0px" >0</text></g>
<text x="109.42" y="148.50" style="font-size:14.5px" >5</text>
<path transform="translate(81.90,97.80)" d="M8.35 0H6.25V-14.6C4.8-13.5 2.6-12.7 0-12.1V-14.1C2.8-14.9 5.0-16.3 6.6-18.1H8.35Z" fill="#000"/>
<g transform="translate(97.40,0) scale(0.9,1) translate(-97.40,0)"><text x="96.42" y="97.80" style="font-size:25.0px" >0</text></g>
<text x="109.26" y="83.00" style="font-size:14.5px" >6</text>
<path transform="translate(81.90,32.30)" d="M8.35 0H6.25V-14.6C4.8-13.5 2.6-12.7 0-12.1V-14.1C2.8-14.9 5.0-16.3 6.6-18.1H8.35Z" fill="#000"/>
<g transform="translate(97.40,0) scale(0.9,1) translate(-97.40,0)"><text x="96.42" y="32.30" style="font-size:25.0px" >0</text></g>
<text x="109.26" y="17.50" style="font-size:14.5px" >7</text>
<g transform="translate(124.80,0) scale(0.92,1) translate(-124.80,0)"><text x="123.82" y="580.5" style="font-size:25.0px" >0</text></g>
<text x="271.90" y="580.5" style="font-size:25.0px" >5</text>
<path transform="translate(411.90,580.50)" d="M8.35 0H6.25V-14.6C4.8-13.5 2.6-12.7 0-12.1V-14.1C2.8-14.9 5.0-16.3 6.6-18.1H8.35Z" fill="#000"/>
<g transform="translate(427.60,0) scale(0.86,1) translate(-427.60,0)"><text x="426.62" y="580.5" style="font-size:25.0px" >0</text></g>
<path transform="translate(559.80,580.50)" d="M8.35 0H6.25V-14.6C4.8-13.5 2.6-12.7 0-12.1V-14.1C2.8-14.9 5.0-16.3 6.6-18.1H8.35Z" fill="#000"/>
<text x="574.40" y="580.5" style="font-size:25.0px" >5</text>
<text x="705.04" y="580.5" style="font-size:25.0px" >2</text>
<g transform="translate(721.80,0) scale(0.86,1) translate(-721.80,0)"><text x="720.82" y="580.5" style="font-size:25.0px" >0</text></g>
<text x="851.14 868.70" y="580.5" style="font-size:25.0px" >25</text>
<text class="at" transform="translate(30,476) rotate(-90)" textLength="399" lengthAdjust="spacingAndGlyphs">V (cm/s),T (K),Mach number</text>
<text x="471.41 481.20 491.29" y="630.8" style="font-size:33px" >r/R</text><g transform="translate(513.90,0) scale(1.3,1) translate(-513.90,0)"><text x="512.87" y="639.2" style="font-size:16px" >p</text></g>
<text x="234.43 248.79 262.38 267.99 274.89 288.24 297.58 303.59 309.91 324.88 340.53 352.53 358.91" y="192" style="font-size:24.0px" >solid lines :</text>
<text x="420.03 435.39 449.31 457.35" y="192" style="font-size:24.0px" >=2.4</text>
<g transform="translate(405.90,192.40)" fill="none" stroke="#000" stroke-linecap="round"><path d="M1.3,-14.6 Q3.2,-16.2 4.3,-13.6 L9.6,-1.6 Q10.4,-0.2 11.9,-1.2" stroke-width="2.0"/><path d="M6.0,-8.6 L0.9,-0.6" stroke-width="1.6"/></g>
<text x="234.39 250.18 265.53 278.54 294.98 307.59 320.94 329.98 335.59 341.21 358.58 373.83 386.01" y="226.3" style="font-size:24.0px" >dashed lines:</text>
<text x="416.03 432.09 445.21 452.99" y="226.3" style="font-size:24.0px" >=3.2</text>
<g transform="translate(401.80,226.40)" fill="none" stroke="#000" stroke-linecap="round"><path d="M1.3,-14.6 Q3.2,-16.2 4.3,-13.6 L9.6,-1.6 Q10.4,-0.2 11.9,-1.2" stroke-width="2.0"/><path d="M6.0,-8.6 L0.9,-0.6" stroke-width="1.6"/></g>
<g stroke-width="2.2">
<line x1="556" y1="179.5" x2="616" y2="179.5" stroke="#000"/>
<line x1="556" y1="211.5" x2="616" y2="211.5" stroke="#e01818"/>
<line x1="556" y1="245.2" x2="616" y2="245.2" stroke="#1414d8"/>
</g>
<text x="621.32 636.48 651.98 658.59 672.78 685.89 692.14 700.24" y="186.3" style="font-size:24.0px" >velocity</text>
<text x="621.66 640.78 654.21" y="220.3" style="font-size:24.0px" >Tem</text>
<text x="621.63 646.68 660.58 673.34 686.68 695.51 711.34 727.71 750.35 766.08 779.71" y="252.3" style="font-size:24.0px" >Mach number</text>
</svg>
</body></html>
